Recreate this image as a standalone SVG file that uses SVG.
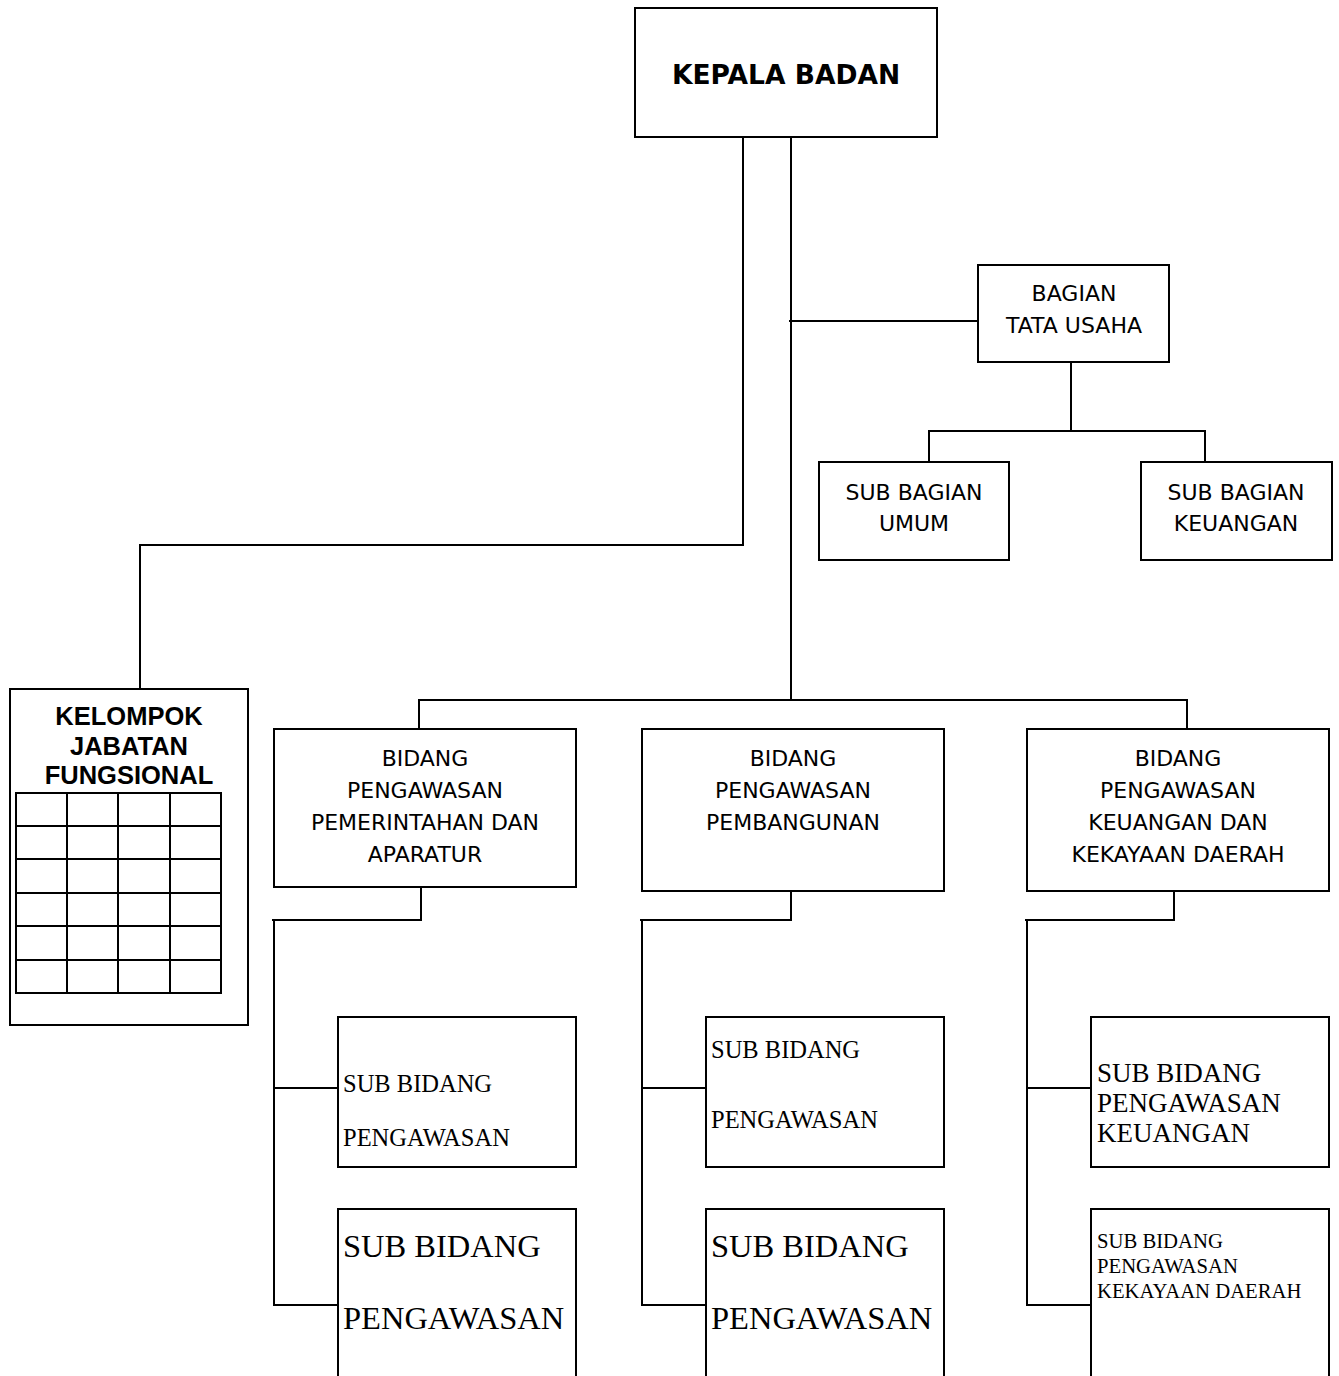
<svg xmlns="http://www.w3.org/2000/svg" width="1339" height="1376" viewBox="0 0 1339 1376">
<style>
.box{fill:#fff;stroke:#000;stroke-width:2}
.ln{fill:none;stroke:#000;stroke-width:2}
.t{font-family:"DejaVu Sans",Verdana,sans-serif;font-size:22px;text-anchor:middle;fill:#000}
.tb{font-family:"DejaVu Sans",Verdana,sans-serif;font-weight:bold;font-size:26.5px;text-anchor:middle;fill:#000}
.ab{font-family:"Liberation Sans",Arial,sans-serif;font-weight:bold;font-size:25.5px;text-anchor:middle;fill:#000}
.s{font-family:"Liberation Serif","Times New Roman",serif;fill:#000}
</style>
<rect width="1339" height="1376" fill="#fff"/>
<g id="connectors">
<path class="ln" d="M743 137V545H140V689"/>
<path class="ln" d="M791 137V700"/>
<path class="ln" d="M789 321H978"/>
<path class="ln" d="M1071 362V431M929 462V431H1205V462"/>
<path class="ln" d="M419 729V700H1187V729"/>
<path class="ln" d="M421 887V920H272M274 920V1305H338M274 1088H338"/>
<path class="ln" d="M791 891V920H640M642 920V1305H706M642 1088H706"/>
<path class="ln" d="M1174 891V920H1025M1027 920V1305H1091M1027 1088H1091"/>
</g>
<g id="kepala-badan">
<rect class="box" x="635" y="8" width="302" height="129"/>
<text class="tb" x="786" y="84">KEPALA BADAN</text>
</g>
<g id="bagian-tata-usaha">
<rect class="box" x="978" y="265" width="191" height="97"/>
<text class="t" x="1074" y="301">BAGIAN</text>
<text class="t" x="1074" y="333">TATA USAHA</text>
</g>
<g id="sub-bagian-umum">
<rect class="box" x="819" y="462" width="190" height="98"/>
<text class="t" x="914" y="500">SUB BAGIAN</text>
<text class="t" x="914" y="531">UMUM</text>
</g>
<g id="sub-bagian-keuangan">
<rect class="box" x="1141" y="462" width="191" height="98"/>
<text class="t" x="1236" y="500">SUB BAGIAN</text>
<text class="t" x="1236" y="531">KEUANGAN</text>
</g>
<g id="kelompok-jabatan-fungsional">
<rect class="box" x="10" y="689" width="238" height="336"/>
<text class="ab" x="129" y="725">KELOMPOK</text>
<text class="ab" x="129" y="755">JABATAN</text>
<text class="ab" x="129" y="784">FUNGSIONAL</text>
<path class="ln" d="M16 793H221V993H16Z M67 793V993M118 793V993M170 793V993M16 826H221M16 859H221M16 893H221M16 926H221M16 960H221"/>
</g>
<g id="bidang-pemerintahan">
<rect class="box" x="274" y="729" width="302" height="158"/>
<text class="t" x="425" y="766">BIDANG</text>
<text class="t" x="425" y="798">PENGAWASAN</text>
<text class="t" x="425" y="830">PEMERINTAHAN DAN</text>
<text class="t" x="425" y="862">APARATUR</text>
</g>
<g id="bidang-pembangunan">
<rect class="box" x="642" y="729" width="302" height="162"/>
<text class="t" x="793" y="766">BIDANG</text>
<text class="t" x="793" y="798">PENGAWASAN</text>
<text class="t" x="793" y="830">PEMBANGUNAN</text>
</g>
<g id="bidang-keuangan">
<rect class="box" x="1027" y="729" width="302" height="162"/>
<text class="t" x="1178" y="766">BIDANG</text>
<text class="t" x="1178" y="798">PENGAWASAN</text>
<text class="t" x="1178" y="830">KEUANGAN DAN</text>
<text class="t" x="1178" y="862">KEKAYAAN DAERAH</text>
</g>
<g id="sub-bidang-1a">
<rect class="box" x="338" y="1017" width="238" height="150"/>
<text class="s" x="343" y="1092" font-size="24.5">SUB BIDANG</text>
<text class="s" x="343" y="1146" font-size="24.5">PENGAWASAN</text>
</g>
<g id="sub-bidang-1b">
<rect class="box" x="338" y="1209" width="238" height="180"/>
<text class="s" x="343" y="1257" font-size="32.5">SUB BIDANG</text>
<text class="s" x="343" y="1329" font-size="32.5">PENGAWASAN</text>
</g>
<g id="sub-bidang-2a">
<rect class="box" x="706" y="1017" width="238" height="150"/>
<text class="s" x="711" y="1058" font-size="24.5">SUB BIDANG</text>
<text class="s" x="711" y="1128" font-size="24.5">PENGAWASAN</text>
</g>
<g id="sub-bidang-2b">
<rect class="box" x="706" y="1209" width="238" height="180"/>
<text class="s" x="711" y="1257" font-size="32.5">SUB BIDANG</text>
<text class="s" x="711" y="1329" font-size="32.5">PENGAWASAN</text>
</g>
<g id="sub-bidang-3a">
<rect class="box" x="1091" y="1017" width="238" height="150"/>
<text class="s" x="1097" y="1082" font-size="27">SUB BIDANG</text>
<text class="s" x="1097" y="1112" font-size="27">PENGAWASAN</text>
<text class="s" x="1097" y="1142" font-size="27">KEUANGAN</text>
</g>
<g id="sub-bidang-3b">
<rect class="box" x="1091" y="1209" width="238" height="180"/>
<text class="s" x="1097" y="1248" font-size="20.7">SUB BIDANG</text>
<text class="s" x="1097" y="1273" font-size="20.7">PENGAWASAN</text>
<text class="s" x="1097" y="1298" font-size="20.7">KEKAYAAN DAERAH</text>
</g>
</svg>
